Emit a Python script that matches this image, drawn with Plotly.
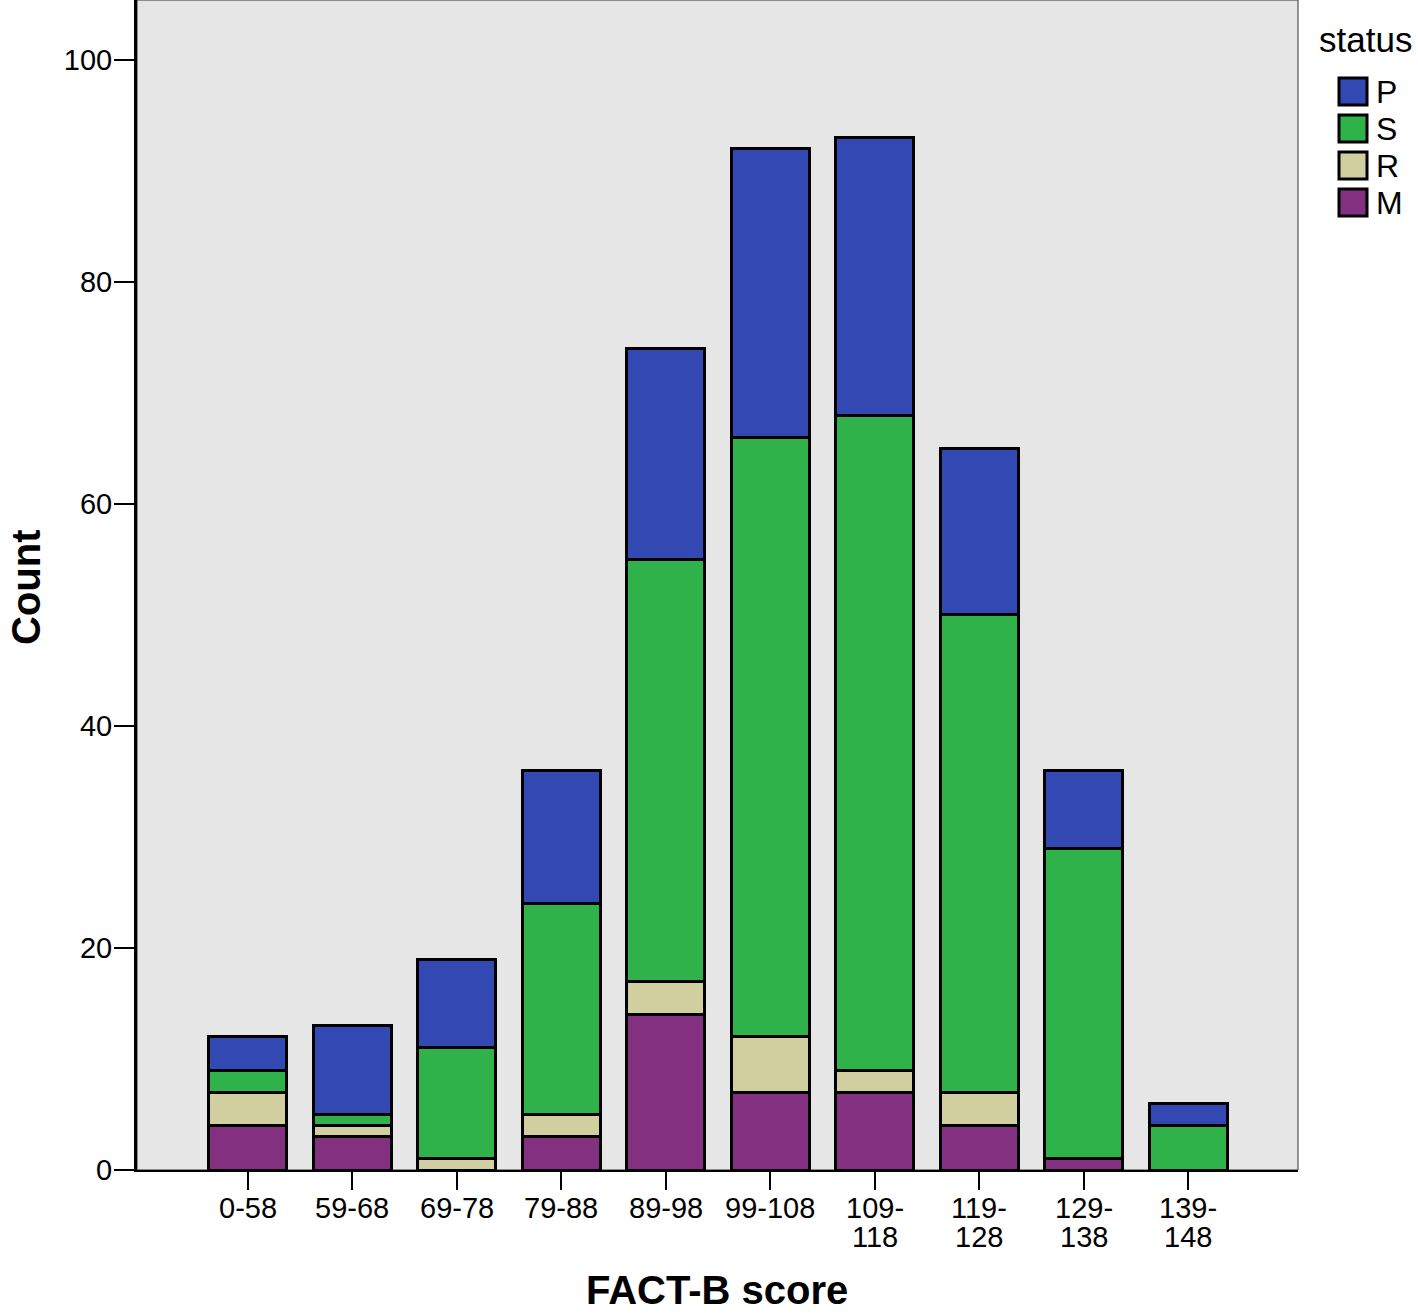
import plotly.graph_objects as go

categories = ["0-58", "59-68", "69-78", "79-88", "89-98", "99-108", "109-118", "119-128", "129-138", "139-148"]
tick_labels = ["0-58", "59-68", "69-78", "79-88", "89-98", "99-108", "109-<br>118", "119-<br>128", "129-<br>138", "139-<br>148"]
M = [4, 3, 0, 3, 14, 7, 7, 4, 1, 0]
R = [3, 1, 1, 2, 3, 5, 2, 3, 0, 0]
S = [2, 1, 10, 19, 38, 54, 59, 43, 28, 4]
P = [3, 8, 8, 12, 19, 26, 25, 15, 7, 2]
series = [("M", M, "#82307f"), ("R", R, "#d1cea0"), ("S", S, "#2fb24a"), ("P", P, "#3249b4")]

W, H = 1418, 1316
L, Rm, T, B = 137, 120, 0, 146
pw, ph = W - L - Rm, H - T - B
FONT = "Liberation Sans, Arial"

fig = go.Figure()
for name, vals, col in series:
    fig.add_trace(go.Bar(x=categories, y=vals, name=name, showlegend=False,
                         marker=dict(color=col, line=dict(color="black", width=3)), width=0.75))

fig.update_layout(
    barmode="stack",
    width=W, height=H,
    margin=dict(l=L, r=Rm, t=T, b=B, autoexpand=False),
    paper_bgcolor="white", plot_bgcolor="#e6e6e6",
    font=dict(family=FONT, color="black", size=29),
    xaxis=dict(range=[-1.06, 10.05], tickmode="array", tickvals=categories, ticktext=[""] * len(categories),
               ticks="outside", ticklen=18, tickwidth=2, tickcolor="black", showgrid=False, automargin=False,
               showline=True, linecolor="black", linewidth=2, mirror=False),
    yaxis=dict(range=[0, 105.4], tickvals=[0, 20, 40, 60, 80, 100], ticks="outside", ticklen=20, tickwidth=2,
               tickcolor="black", showgrid=False, zeroline=False, showline=True, linecolor="black", linewidth=3,
               automargin=False, tickfont=dict(size=29), ticklabelstandoff=-4),
)
fig.add_shape(type="rect", xref="paper", yref="paper", x0=0, y0=0, x1=1, y1=1, line=dict(color="#333333", width=1), layer="below")

def px(x):
    return (x - L) / pw
def py(y):
    return (H - B - y) / ph

# x tick labels (two-line labels with tight spacing)
for cat, lab in zip(categories, tick_labels):
    for j, line in enumerate(lab.split("<br>")):
        fig.add_annotation(text=line, xref="x", yref="paper", x=cat, y=py(1208 + 29 * j), xanchor="center", yanchor="middle",
                           showarrow=False, font=dict(size=29))

# axis titles
fig.add_annotation(text="<b>FACT-B score</b>", xref="paper", yref="paper", x=px(717), y=py(1290), xanchor="center",
                   yanchor="middle", showarrow=False, font=dict(size=40))
fig.add_annotation(text="<b>Count</b>", xref="paper", yref="paper", x=px(26), y=py(587), xanchor="center",
                   yanchor="middle", textangle=-90, showarrow=False, font=dict(size=40))

# custom legend (top-right), order P, S, R, M
fig.add_annotation(text="status", xref="paper", yref="paper", x=px(1317), y=py(40), xanchor="left", yanchor="middle",
                   showarrow=False, font=dict(size=35))
for i, (name, vals, col) in enumerate(reversed(series)):
    top = 78 + i * 37
    fig.add_shape(type="rect", xref="paper", yref="paper", x0=px(1339), x1=px(1367), y0=py(top + 27), y1=py(top),
                  fillcolor=col, line=dict(color="black", width=3))
    fig.add_annotation(text=name, xref="paper", yref="paper", x=px(1374), y=py(top + 14), xanchor="left", yanchor="middle",
                       showarrow=False, font=dict(size=32))

fig.write_html("out.html", config={"displayModeBar": False}, post_script="document.body.style.margin='0px';")
